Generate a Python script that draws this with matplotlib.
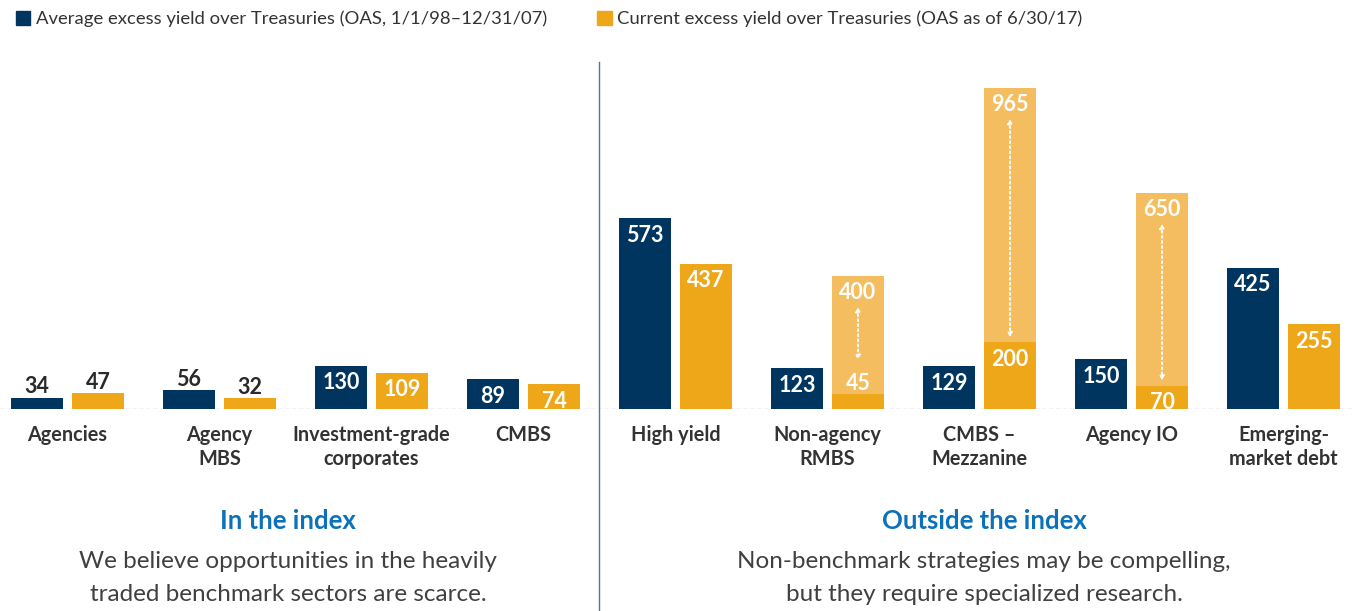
import numpy as np
import matplotlib
matplotlib.use("Agg")
import matplotlib.pyplot as plt
from matplotlib.patches import Patch
from matplotlib.transforms import offset_copy, blended_transform_factory

# spreads in basis points
categories = ["Agencies", "Agency\nMBS", "Investment-grade\ncorporates", "CMBS",
              "High yield", "Non-agency\nRMBS", "CMBS \u2013\nMezzanine", "Agency IO",
              "Emerging-\nmarket debt"]
avg_oas = [34, 56, 130, 89, 573, 123, 129, 150, 425]
cur_oas = [47, 32, 109, 74, 437, 45, 200, 70, 255]
# upper end of the current range, where a range is given
cur_high = [np.nan, np.nan, np.nan, np.nan, np.nan, 400, 965, 650, np.nan]

legend_labels = ["Average excess yield over Treasuries (OAS, 1/1/98\u201312/31/07)",
                 "Current excess yield over Treasuries (OAS as of 6/30/17)"]
sections = [("In the index",
             "We believe opportunities in the heavily\ntraded benchmark sectors are scarce."),
            ("Outside the index",
             "Non-benchmark strategies may be compelling,\nbut they require specialized research.")]
n_inside = 4

NAVY = "#00355f"
ORANGE = "#eea719"
LIGHT = "#f4bd5f"
DARK = "#2a2a2a"
BLUE = "#0b72ba"

plt.rcParams["font.family"] = ["Lato", "DejaVu Sans"]

W, H = 1354, 611
fig = plt.figure(figsize=(W / 100, H / 100), dpi=100)
ax = fig.add_axes([0, 1 - 409 / H, 1, 409 / H])

x = np.arange(len(categories))
off = 0.2007
bw = 0.342
ax.bar(x - off, avg_oas, bw, color=NAVY, zorder=2)
ax.bar(x + off, cur_high, bw, color=LIGHT, zorder=2)
ax.bar(x + off, cur_oas, bw, color=ORANGE, zorder=3)

ax.set_xlim(-0.444, 8.464)
ax.set_ylim(0, 1229)
ax.axis("off")
ax.axhline(0, color="#c4c4c4", lw=1, ls=(0, (3, 2)), zorder=1)

inside = offset_copy(ax.transData, fig, y=-17, units="dots")
above = offset_copy(ax.transData, fig, y=11, units="dots")
vstyle = dict(ha="center", va="center", fontsize=15.5, fontweight="bold", zorder=5)


def put_value(xpos, v, in_bar_behind=False):
    if v >= 60:
        ax.text(xpos, v, str(v), transform=inside, color="white", **vstyle)
    else:
        ax.text(xpos, v, str(v), transform=above,
                color="white" if in_bar_behind else DARK, **vstyle)


for i in range(len(categories)):
    put_value(x[i] - off, avg_oas[i])
    has_range = not np.isnan(cur_high[i])
    put_value(x[i] + off, cur_oas[i], in_bar_behind=has_range)
    if has_range:
        hi = int(cur_high[i])
        put_value(x[i] + off, hi)
        lo_gap = 34 if cur_oas[i] < 60 else 5
        ax.annotate("", xy=(x[i] + off, cur_oas[i]),
                    xycoords=offset_copy(ax.transData, fig, y=lo_gap, units="dots"),
                    xytext=(x[i] + off, hi),
                    textcoords=offset_copy(ax.transData, fig, y=-31, units="dots"),
                    arrowprops=dict(arrowstyle="<|-|>", color="white", lw=1.4,
                                    ls=(0, (1, 1.6)), mutation_scale=6,
                                    shrinkA=0, shrinkB=0),
                    zorder=6)

# category names under the baseline
for i, name in enumerate(categories):
    ax.annotate(name, xy=(x[i], 0), xytext=(0, -16), textcoords="offset pixels",
                ha="center", va="top", fontsize=14.3, fontweight="bold",
                color="#333333", linespacing=1.22, annotation_clip=False)

# divider between index and non-index sectors
ax.axvline((n_inside - 1 + n_inside) / 2, ymin=(409 - H) / 409, ymax=(409 - 62) / 409,
           color="#5b7399", lw=1, clip_on=False)

# section headings and notes
bt = blended_transform_factory(ax.transData, fig.transFigure)
centers = [1.45, 6.03]
for (head, note), cx in zip(sections, centers):
    fig.text(cx, 1 - 521 / H, head, transform=bt, ha="center", va="center",
             fontsize=18.5, fontweight="bold", color=BLUE)
    fig.text(cx, 1 - 578 / H, note, transform=bt, ha="center", va="center",
             fontsize=17.5, fontweight="normal", color="#404040", linespacing=1.72)

handles = [Patch(color=NAVY), Patch(color=ORANGE)]
fig.legend(handles, legend_labels, loc="upper left", bbox_to_anchor=(0.006, 0.995),
           ncol=2, frameon=False, fontsize=13.3, handlelength=0.8, handleheight=0.8,
           handletextpad=0.3, columnspacing=2.7, borderaxespad=0,
           labelcolor="#333333")

fig.savefig("out.png", dpi=100)
